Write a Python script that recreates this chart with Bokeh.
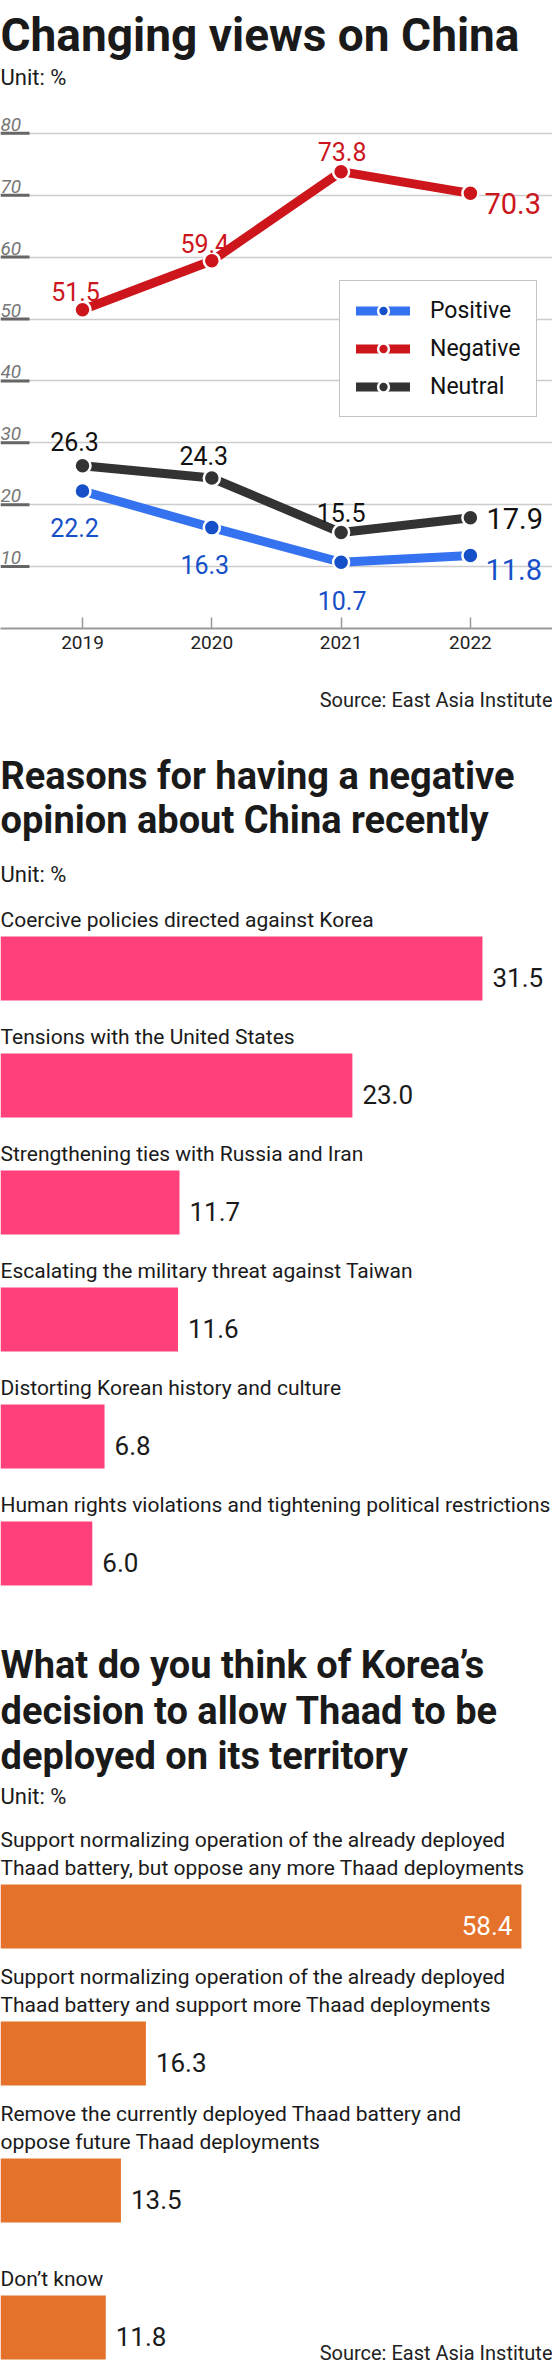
from bokeh.plotting import figure
from bokeh.models import Range1d, FixedTicker, Legend, LegendItem, LinearAxis, Grid
from bokeh.layouts import column
from bokeh.embed import file_html
from bokeh.resources import INLINE
from bokeh.core.properties import value

FONT = "Roboto"
INK = "#1a1a1a"

# ---------------- data ----------------
years = [2019, 2020, 2021, 2022]
positive = [22.2, 16.3, 10.7, 11.8]
negative = [51.5, 59.4, 73.8, 70.3]
neutral = [26.3, 24.3, 15.5, 17.9]
y_ticks = [10, 20, 30, 40, 50, 60, 70, 80]
y_tick_labels = ["10", "20", "30", "40", "50", "60", "70", "80"]

reasons = [
    "Coercive policies directed against Korea",
    "Tensions with the United States",
    "Strengthening ties with Russia and Iran",
    "Escalating the military threat against Taiwan",
    "Distorting Korean history and culture",
    "Human rights violations and tightening political restrictions",
]
reason_values = [31.5, 23.0, 11.7, 11.6, 6.8, 6.0]

thaad_options = [
    "Support normalizing operation of the already deployed\nThaad battery, but oppose any more Thaad deployments",
    "Support normalizing operation of the already deployed\nThaad battery and support more Thaad deployments",
    "Remove the currently deployed Thaad battery and\noppose future Thaad deployments",
    "Don\u2019t know",
]
thaad_values = [58.4, 16.3, 13.5, 11.8]

title1 = "Changing views on China"
title2 = ["Reasons for having a negative", "opinion about China recently"]
title3 = ["What do you think of Korea\u2019s", "decision to allow Thaad to be", "deployed on its territory"]
unit_text = "Unit: %"
source_text = "Source: East Asia Institute"

# ---------------- styles ----------------
RED = "#cc161c"
BLUE_LINE = "#3572f0"
BLUE_DOT = "#1650c8"
DARK = "#333333"
PINK = "#ff407b"
ORANGE = "#e4722a"

W = 552
H1, H2, H3 = 672, 940, 751


def cap(fs):
    return 0.711 * fs


def make_fig(h, xr, yr, bottom=0):
    p = figure(width=W, height=h, x_range=xr, y_range=yr,
               output_backend="svg", toolbar_location=None,
               x_axis_type=None, y_axis_type=None,
               min_border_left=0, min_border_right=0, min_border_top=0,
               min_border_bottom=bottom, outline_line_color=None,
               background_fill_color="white", border_fill_color="white")
    return p


def txt(p, x, y, text, size, color=INK, align="left", style="normal",
        x_offset=0, y_offset=0):
    p.text(x=x, y=y, text=text, text_font=value(FONT),
           text_font_size=f"{size}px", text_color=color, text_align=align,
           text_baseline="alphabetic", text_font_style=style,
           x_offset=x_offset, y_offset=y_offset)


# ================= Section 1: line chart =================
FRAME1 = 628
PX1 = 6.19       # px per percentage point
X0 = 82          # px of first year
YR = 129.3       # px per year
xr1 = Range1d(years[0] - X0 / YR, years[0] + (W - X0) / YR)
yr1 = Range1d(0, FRAME1 / PX1)
p1 = make_fig(H1, xr1, yr1, bottom=H1 - FRAME1)


def y1(fy):
    return (FRAME1 - fy) / PX1


left1 = xr1.start
txt(p1, [left1], [y1(34)], [title1], 46, style="bold")
txt(p1, [left1], [y1(77)], [unit_text], 22)

p1.add_layout(Grid(dimension=1, ticker=FixedTicker(ticks=y_ticks),
                   grid_line_color="#cccccc", grid_line_width=1.5))
# short dark tick stubs at the left end of each gridline
p1.ray(x=[left1] * len(y_ticks), y=y_ticks, length=29, length_units="screen",
       angle=0, line_color="#666666", line_width=3)

xax = LinearAxis(ticker=FixedTicker(ticks=years), axis_line_color="#999999",
                 axis_line_width=2, major_tick_in=11, major_tick_out=0,
                 major_tick_line_color="#999999", major_tick_line_width=1.5,
                 minor_tick_line_color=None, major_label_text_font=FONT,
                 major_label_text_font_size="19px", major_label_text_color="#222222",
                 major_label_standoff=7)
p1.add_layout(xax, "below")

txt(p1, [left1] * len(y_ticks), y_ticks, y_tick_labels, 19, color="#777777",
    style="italic", y_offset=-9)

series = [
    ("Positive", positive, BLUE_LINE, BLUE_DOT, BLUE_DOT,
     [-8, -7, 1], [28, 28, 29], 15, 4),
    ("Negative", negative, RED, RED, RED,
     [-7, -7, 1], [-27, -26, -29], 14, 0),
    ("Neutral", neutral, DARK, DARK, "#111111",
     [-8, -8, 0], [-33, -31, -29], 16, -10),
]
items = []
for name, vals, lc, dc, tc, xo, yo, last_xo, last_yo in series:
    rl = p1.line(years, vals, line_color=lc, line_width=9,
                 line_join="round", line_cap="round")
    rd = p1.scatter(years, vals, size=16, fill_color=dc, line_color="white",
                    line_width=2.5)
    items.append(LegendItem(label=name, renderers=[rl, rd]))
    labels = [f"{v:.1f}" for v in vals]
    fs = 25
    txt(p1, years[:-1], vals[:-1], labels[:-1], fs, color=tc, align="center",
        x_offset=xo, y_offset=[o + cap(fs) / 2 for o in yo])
    fl = 29
    txt(p1, years[-1:], vals[-1:], labels[-1:], fl, color=tc, align="left",
        x_offset=last_xo, y_offset=last_yo + cap(fl) / 2)

legend = Legend(items=items, location=(339, 211), orientation="vertical",
                glyph_width=54, glyph_height=27, label_height=27,
                label_standoff=20, spacing=11, padding=16, margin=0,
                border_line_color="#888888", border_line_width=1,
                background_fill_color="white", background_fill_alpha=1,
                label_text_font=FONT, label_text_font_size="23px",
                label_text_color="#111111")
p1.add_layout(legend)

# ================= Section 2: pink bars =================
PX2 = 15.3
xr2 = Range1d(0, W / PX2)
yr2 = Range1d(H2, 0)
p2 = make_fig(H2, xr2, yr2)

txt(p2, [xr2.end], [27], [source_text], 20, align="right", color="#222222")
txt(p2, [0, 0], [103, 147], title2, 38, style="bold")
txt(p2, [0], [202], [unit_text], 22)

TOP2, PITCH2, BAR_H = 264, 117, 64
tops2 = [TOP2 + PITCH2 * i for i in range(len(reasons))]
mids2 = [t + BAR_H / 2 for t in tops2]
p2.hbar(y=mids2, left=0, right=reason_values, height=BAR_H,
        fill_color=PINK, line_color=None)
txt(p2, [0] * len(reasons), [t - 16.5 for t in tops2], reasons, 21)
VFS = 26
txt(p2, reason_values, [m + cap(VFS) / 2 for m in mids2],
    [f"{v:.1f}" for v in reason_values], VFS, x_offset=10)

# ================= Section 3: orange bars =================
PX3 = 8.92
xr3 = Range1d(0, W / PX3)
yr3 = Range1d(H3, 0)
p3 = make_fig(H3, xr3, yr3)

txt(p3, [0] * 3, [52, 98, 143], title3, 38, style="bold")
txt(p3, [0], [184], [unit_text], 22)

TOP3, PITCH3 = 272, 137
tops3 = [TOP3 + PITCH3 * i for i in range(len(thaad_options))]
mids3 = [t + BAR_H / 2 for t in tops3]
p3.hbar(y=mids3, left=0, right=thaad_values, height=BAR_H,
        fill_color=ORANGE, line_color=None)

lx, ly, lt = [], [], []
for t, lab in zip(tops3, thaad_options):
    lines = lab.split("\n")
    n = len(lines)
    for k, line in enumerate(lines):
        lx.append(0)
        ly.append(t - 17 - (n - 1 - k) * 27.5)
        lt.append(line)
txt(p3, lx, ly, lt, 21)

inside = [v for v in thaad_values if v > 40]
inside_y = [m for m, v in zip(mids3, thaad_values) if v > 40]
outside = [v for v in thaad_values if v <= 40]
outside_y = [m for m, v in zip(mids3, thaad_values) if v <= 40]
txt(p3, inside, [m + cap(VFS) / 2 for m in inside_y],
    [f"{v:.1f}" for v in inside], VFS, color="white", align="right", x_offset=-9)
txt(p3, outside, [m + cap(VFS) / 2 for m in outside_y],
    [f"{v:.1f}" for v in outside], VFS, x_offset=10)

txt(p3, [xr3.end], [740], [source_text], 20, align="right", color="#222222")

layout = column(p1, p2, p3, spacing=0)
open("out.html", "w").write(file_html(layout, INLINE))
